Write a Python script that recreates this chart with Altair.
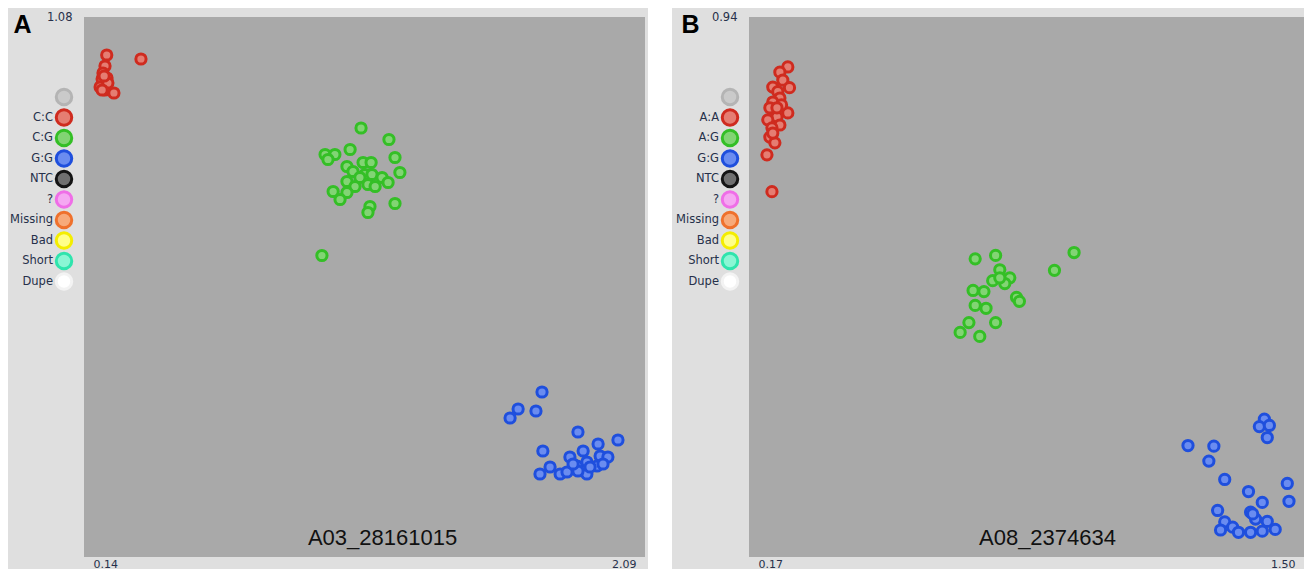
import altair as alt
import pandas as pd

# ---------------- Panel A (A03_28161015) ----------------
a_cc_x = [0.219, 0.338, 0.213, 0.206, 0.203, 0.220, 0.196, 0.213, 0.244, 0.223, 0.203, 0.210]
a_cc_y = [1.004, 0.996, 0.982, 0.968, 0.956, 0.958, 0.940, 0.934, 0.928, 0.948, 0.934, 0.962]

a_cg_x = [1.103, 1.200, 0.978, 1.012, 0.988, 1.065, 1.221, 1.054, 1.110, 1.138, 1.075, 1.117, 1.141, 1.176,
          1.197, 1.238, 1.054, 1.099, 1.082, 1.127, 1.152, 1.006, 1.054, 1.030, 1.134, 1.127, 1.221, 0.967]
a_cg_y = [0.858, 0.835, 0.805, 0.805, 0.795, 0.815, 0.799, 0.781, 0.789, 0.789, 0.771, 0.765, 0.765, 0.759,
          0.749, 0.769, 0.751, 0.759, 0.741, 0.745, 0.741, 0.731, 0.729, 0.715, 0.701, 0.689, 0.707, 0.603]

a_gg_x = [1.732, 1.649, 1.621, 1.711, 1.857, 1.996, 1.735, 1.927, 1.829, 1.875, 1.934, 1.961, 1.760, 1.725,
          1.795, 1.819, 1.854, 1.888, 1.888, 1.923, 1.944, 1.857, 1.899, 1.840]
a_gg_y = [0.330, 0.296, 0.278, 0.292, 0.250, 0.234, 0.212, 0.226, 0.200, 0.212, 0.202, 0.200, 0.180, 0.166,
          0.166, 0.170, 0.182, 0.190, 0.166, 0.182, 0.186, 0.172, 0.180, 0.186]

# ---------------- Panel B (A08_2374634) ----------------
b_aa_x = [0.263, 0.244, 0.251, 0.227, 0.267, 0.239, 0.244, 0.227, 0.263, 0.220, 0.237, 0.215, 0.244, 0.225,
          0.220, 0.232, 0.213, 0.225, 0.248, 0.237, 0.227]
b_aa_y = [0.853, 0.844, 0.830, 0.818, 0.817, 0.810, 0.799, 0.792, 0.773, 0.782, 0.766, 0.761, 0.752, 0.747,
          0.731, 0.721, 0.700, 0.636, 0.787, 0.782, 0.738]

b_ag_x = [0.712, 0.761, 0.949, 0.902, 0.771, 0.754, 0.795, 0.783, 0.707, 0.733, 0.811, 0.818, 0.712, 0.738,
          0.697, 0.761, 0.676, 0.723, 0.771]
b_ag_y = [0.519, 0.525, 0.530, 0.499, 0.500, 0.481, 0.486, 0.476, 0.464, 0.462, 0.452, 0.445, 0.438, 0.433,
          0.408, 0.408, 0.391, 0.384, 0.486]

b_gg_x = [1.405, 1.393, 1.417, 1.412, 1.222, 1.284, 1.272, 1.310, 1.460, 1.367, 1.400, 1.464, 1.293, 1.372,
          1.384, 1.412, 1.310, 1.329, 1.300, 1.343, 1.372, 1.400, 1.431, 1.377]
b_gg_y = [0.240, 0.227, 0.229, 0.208, 0.194, 0.193, 0.167, 0.135, 0.128, 0.114, 0.095, 0.097, 0.081, 0.078,
          0.066, 0.062, 0.061, 0.052, 0.047, 0.043, 0.043, 0.045, 0.048, 0.075]

# legend categories and colours
legend_a = [" ", "C:C", "C:G", "G:G", "NTC", "?", "Missing", "Bad", "Short", "Dupe"]
legend_b = [" ", "A:A", "A:G", "G:G", "NTC", "?", "Missing", "Bad", "Short", "Dupe"]
fill_colors = ["#cacaca", "#e57d72", "#82d474", "#6a8cf0", "#707070", "#f5a8f2", "#f7aa7a",
               "#ffff8a", "#8af6d4", "#ffffff"]
rim_colors = ["#b4b4b4", "#cf2b1f", "#34bf26", "#1f4fdd", "#151515", "#ef6ee7", "#ef712c",
              "#f4ed00", "#2fe4ad", "#f3f3f3"]

x_range_a = [0.14, 2.09]
x_range_b = [0.17, 1.50]
y_top_a = 1.08
y_top_b = 0.94


def frame(groups):
    rows = []
    for label, xs, ys in groups:
        for x, y in zip(xs, ys):
            rows.append({"x": x, "y": y, "geno": label})
    return pd.DataFrame(rows)


df_a = frame([("C:C", a_cc_x, a_cc_y), ("C:G", a_cg_x, a_cg_y), ("G:G", a_gg_x, a_gg_y)])
df_b = frame([("A:A", b_aa_x, b_aa_y), ("A:G", b_ag_x, b_ag_y), ("G:G", b_gg_x, b_gg_y)])

LABEL_FONT = "DejaVu Sans"
LABEL_COLOR = "#26304a"
PLOT_H = 540


def colour_scales(cats):
    return (alt.Scale(domain=cats, range=fill_colors), alt.Scale(domain=cats, range=rim_colors))


def panel(df, cats, xr, ytop, marker, letter, letter_x, w):
    fs, ss = colour_scales(cats)
    return alt.Chart(df).mark_point(shape="circle", filled=True, size=105, strokeWidth=3,
                                    opacity=1).encode(
        x=alt.X("x:Q", scale=alt.Scale(domain=xr, nice=False, zero=False),
                axis=alt.Axis(values=xr, format=".2f", ticks=False, domain=False, grid=False,
                              labelFlush=True, labelFlushOffset=-9, labelPadding=1,
                              labelFont=LABEL_FONT, labelFontSize=11, labelColor=LABEL_COLOR,
                              title=marker, titleX=298, titleY=-13, titleAlign="center",
                              titleBaseline="alphabetic", titleFont="Liberation Sans",
                              titleFontSize=22, titleFontWeight="normal", titleColor="#111111")),
        y=alt.Y("y:Q", scale=alt.Scale(domain=[0, ytop], nice=False, zero=False),
                axis=alt.Axis(values=[ytop], format=".2f", ticks=False, domain=False, grid=False,
                              labelPadding=12, labelFont=LABEL_FONT, labelFontSize=11.5,
                              labelColor=LABEL_COLOR,
                              title=letter, titleAngle=0, titleX=letter_x, titleY=15,
                              titleAlign="left", titleBaseline="alphabetic",
                              titleFont="Liberation Sans", titleFontSize=25,
                              titleFontWeight="bold", titleColor="#000000")),
        fill=alt.Fill("geno:N", scale=fs, legend=None),
        stroke=alt.Stroke("geno:N", scale=ss, legend=None),
    ).properties(width=w, height=PLOT_H,
                 view=alt.ViewBackground(fill="#a9a9a9", strokeWidth=0))


def key(cats, w, sym_x, lab_x):
    """Genotype key drawn left of the plot: a circle and a label per category."""
    fs, ss = colour_scales(cats)
    base = alt.Chart(pd.DataFrame({"geno": cats})).encode(
        y=alt.Y("geno:N", sort=cats,
                scale=alt.Scale(type="point", domain=cats, range=[80, 264.5], padding=0),
                axis=None)
    )
    dots = base.mark_point(shape="circle", filled=True, size=240, strokeWidth=3, opacity=1).encode(
        x=alt.value(sym_x),
        fill=alt.Fill("geno:N", scale=fs, legend=None),
        stroke=alt.Stroke("geno:N", scale=ss, legend=None),
    )
    labels = base.mark_text(align="right", baseline="middle", font=LABEL_FONT, fontSize=11.5,
                            color=LABEL_COLOR).encode(x=alt.value(lab_x), text="geno:N")
    return alt.layer(dots, labels).properties(
        width=w, height=PLOT_H, view=alt.ViewBackground(fill="transparent", strokeWidth=0))


def spacer(w, h, fill="transparent"):
    return alt.Chart(pd.DataFrame({"s": [0]})).mark_rule(strokeWidth=0, opacity=0).encode(
        x=alt.value(0), x2=alt.value(0), y=alt.value(0), y2=alt.value(0)
    ).properties(width=w, height=h, view=alt.ViewBackground(fill=fill, strokeWidth=0))


pa = panel(df_a, legend_a, x_range_a, y_top_a, "A03_28161015", "A", -71, 561)
pb = panel(df_b, legend_b, x_range_b, y_top_b, "A08_2374634", "B", -68, 555)
ka = key(legend_a, 76, 56, 45)
kb = key(legend_b, 77, 58, 47)

widths = [76, 561, 3, 24, 77, 555]
fills = ["transparent", "transparent", "transparent", "#ffffff", "transparent", "transparent"]
top_row = [spacer(w, 9, f) for w, f in zip(widths, fills)]
main_row = [ka, pa, spacer(3, 552), spacer(24, 552, "#ffffff"), kb, pb]

chart = alt.concat(
    *(top_row + main_row), columns=6, spacing=0, bounds="flush"
).resolve_scale(
    fill="independent", stroke="independent", x="independent", y="independent"
).properties(
    padding=0, background="#dfdfdf"
).configure_view(strokeWidth=0)

chart.save("out.html", embed_options={"renderer": "svg", "actions": False})
